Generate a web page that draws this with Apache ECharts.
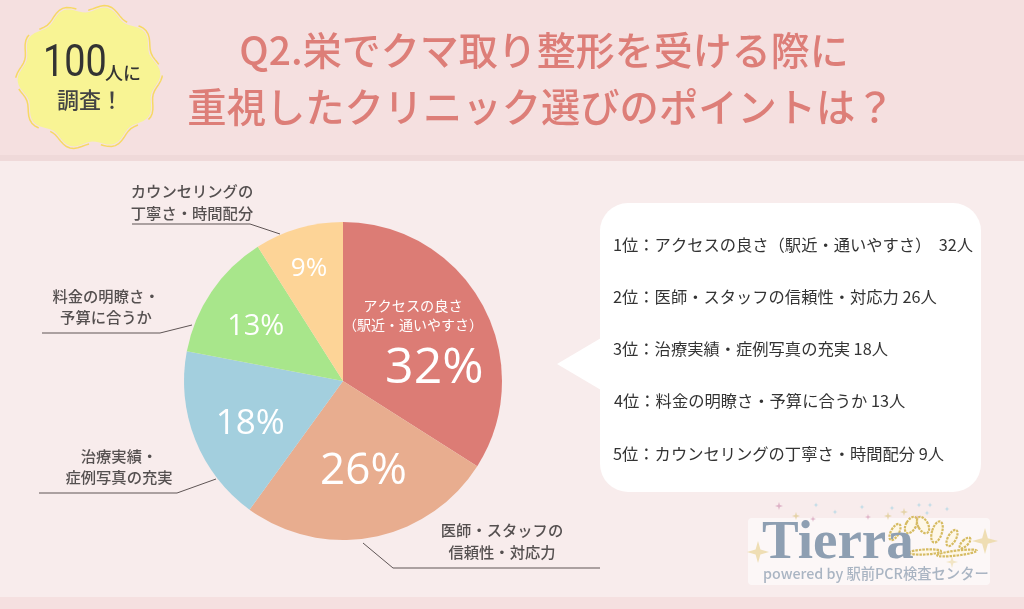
<!DOCTYPE html>
<html lang="ja">
<head>
<meta charset="utf-8">
<title>Q2</title>
<script src="https://cdn.jsdelivr.net/npm/echarts@6/dist/echarts.min.js"></script>
<style>
  html, body { margin: 0; padding: 0; background: #f8ecec; }
  #chart { width: 1024px; height: 609px; }
</style>
</head>
<body>
<div id="chart"></div>
<script>
// slice sizes as drawn in the picture (the red slice is drawn a bit wider than its label says)
const sliceShares = [34, 26, 18, 13, 9];
const percentLabels = ['32%', '26%', '18%', '13%', '9%'];
const sliceColors = ['#dc7c75', '#e8ad8f', '#a3cfde', '#a8e68b', '#fdd497'];
const rankNames = ['アクセスの良さ（駅近・通いやすさ）', '医師・スタッフの信頼性・対応力', '治療実績・症例写真の充実', '料金の明瞭さ・予算に合うか', 'カウンセリングの丁寧さ・時間配分'];
const rankCounts = [32, 26, 18, 13, 9];
const titleLines = ['Q2.栄でクマ取り整形を受ける際に', '重視したクリニック選びのポイントは？'];
const labelSizes = [50, 44, 35, 29, 26];
const labelOffsets = [[19, 27], [5, 9], [-16, 13], [-19, -8], [-11, -33]];

const JP = '"Noto Sans CJK JP", sans-serif';

function text(x, y, str, size, fill, align, weight, family) {
  return {
    type: 'text', silent: true, z: 50,
    style: {
      x: x, y: y, text: str, fill: fill,
      fontSize: size, fontFamily: family || JP, fontWeight: weight || 400,
      textAlign: align || 'center', textVerticalAlign: 'middle'
    }
  };
}

function rect(x, y, w, h, fill, r) {
  return { type: 'rect', silent: true, z: 0, shape: { x: x, y: y, width: w, height: h, r: r || 0 }, style: { fill: fill } };
}

function line(points) {
  return { type: 'polyline', silent: true, z: 40, shape: { points: points }, style: { stroke: '#5f5555', lineWidth: 1, fill: null } };
}

// wavy sticker outline around the badge
function wavy(cx, cy, radius, amp, lobes) {
  let pts = [];
  for (let i = 0; i < 360; i += 3) {
    let a = i * Math.PI / 180;
    let r = radius + amp * Math.cos(lobes * a + 0.5);
    pts.push([cx + r * Math.cos(a), cy + r * Math.sin(a)]);
  }
  return pts;
}

// four point sparkle in the logo
function star(cx, cy, s, fill) {
  let k = s * 0.22;
  return {
    type: 'polygon', silent: true, z: 30,
    shape: { points: [[cx, cy - s], [cx + k, cy - k], [cx + s, cy], [cx + k, cy + k], [cx, cy + s], [cx - k, cy + k], [cx - s, cy], [cx - k, cy - k]] },
    style: { fill: fill, opacity: 0.85 }
  };
}

function ring(cx, cy, rx, ry, rot) {
  return {
    type: 'ellipse', silent: true, z: 31, x: cx, y: cy, rotation: rot || 0,
    shape: { cx: 0, cy: 0, rx: rx, ry: ry },
    style: { fill: 'rgba(255,248,215,0.5)', stroke: '#d6bb62', lineWidth: 2.2, lineDash: [2.5, 1] }
  };
}

// the "100" is narrower than Roboto, so squeeze it sideways
let hundred = text(0, 0, '100', 45, '#333333', 'left', 400, 'Roboto, sans-serif');
hundred.x = 43;
hundred.y = 65;
hundred.scaleX = 0.84;

let graphics = [
  rect(0, 0, 1024, 156, '#f5e0e0'),
  rect(0, 155, 1024, 6, '#efd9d9'),
  rect(0, 161, 1024, 437, '#f8ecec'),
  rect(0, 597, 1024, 12, '#f5e0e0'),

  // badge
  { type: 'polygon', silent: true, z: 5, shape: { points: wavy(89, 77, 68, 3.5, 10) }, style: { fill: '#f8f494' } },
  { type: 'polygon', silent: true, z: 6, shape: { points: wavy(89, 77, 70, 3.5, 10) }, style: { fill: null, stroke: '#f7d964', lineWidth: 1.5, lineDash: [46, 12] } },
  hundred,
  text(123, 73, '人に', 18, '#333333', 'center', 500),
  text(90, 100, '調査！', 22, '#444444', 'center', 500),

  // title
  text(544, 50, titleLines[0], 39, '#dd7e78', 'center', 500),
  text(541, 107, titleLines[1], 39.3, '#dd7e78', 'center', 500),

  // captions around the pie
  text(192, 191, 'カウンセリングの', 15.3, '#555050', 'center', 500),
  text(192, 213, '丁寧さ・時間配分', 15.3, '#555050', 'center', 500),
  line([[132, 224], [250, 224], [280, 234]]),
  text(106, 296, '料金の明瞭さ・', 15.3, '#555050', 'center', 500),
  text(106, 317, '予算に合うか', 15.3, '#555050', 'center', 500),
  line([[42, 333], [160, 333], [192, 325]]),
  text(119, 456, '治療実績・', 15.3, '#555050', 'center', 500),
  text(119, 477, '症例写真の充実', 15.3, '#555050', 'center', 500),
  line([[39, 493], [177, 493], [216, 479]]),
  text(502, 530, '医師・スタッフの', 15.3, '#555050', 'center', 500),
  text(502, 552, '信頼性・対応力', 15.3, '#555050', 'center', 500),
  line([[363, 543], [393, 568], [600, 568]]),

  // text inside the red slice
  text(413, 306, 'アクセスの良さ', 14.2, '#ffffff'),
  text(413, 325, '（駅近・通いやすさ）', 14, '#ffffff'),

  // speech bubble
  rect(600, 203, 381, 289, '#ffffff', 28),
  { type: 'polygon', silent: true, z: 1, shape: { points: [[557, 364], [601, 338], [601, 390]] }, style: { fill: '#ffffff' } },

  // logo
  rect(748, 518, 242, 67, 'rgba(255,255,255,0.6)', 4),
  text(762, 544, 'Tierra', 55, '#8e9fb2', 'left', 700, '"Liberation Serif", serif'),
  text(763, 574, 'powered by 駅前PCR検査センター', 14.3, '#aab5c3', 'left', 500),
  ring(911, 525, 5, 9, -0.5), ring(923, 525, 5, 9, 0.5),
  ring(895, 532, 4, 9, -0.5), ring(937, 532, 5, 11, -0.3), ring(952, 538, 4, 9, -0.5), ring(965, 543, 3, 7, -0.8),
  ring(925, 552, 16, 2.5, 0.05), ring(957, 553, 20, 2.5, 0.12),
  star(758, 552, 11, '#ecd9a8'), star(985, 541, 13, '#ecd9a8'), star(952, 562, 6, '#f0e2bc'),
  star(796, 516, 4, '#e2cf9c'), star(888, 516, 4, '#e2cf9c'), star(904, 512, 4, '#e2cf9c'),
  star(779, 506, 4, '#d9a8c0'), star(813, 519, 3, '#d9a8c0'), star(868, 517, 3, '#d9a8c0'), star(917, 518, 3, '#d9a8c0'),
  star(816, 505, 2.5, '#a9d4e4'), star(835, 512, 2.5, '#a9d4e4'), star(862, 507, 2.5, '#a9d4e4'), star(892, 508, 2.5, '#a9d4e4'),
  star(919, 505, 2.5, '#a9d4e4'), star(930, 505, 2.5, '#a9d4e4'), star(927, 513, 2.5, '#a9d4e4'), star(947, 509, 2.5, '#a9d4e4')
];

// ranking list inside the bubble
const rowY = [245, 297, 349, 401, 454];
const rowX = [613, 613, 613, 614, 613];
rankNames.forEach(function (name, i) {
  graphics.push(text(rowX[i], rowY[i], (i + 1) + '位：' + name + (i === 0 ? ' ' : '') + ' ' + rankCounts[i] + '人', 16.3, '#333333', 'left'));
});

let chart = echarts.init(document.getElementById('chart'));
chart.setOption({
  animation: false,
  graphic: graphics,
  series: [{
    type: 'pie',
    z: 10,
    center: [343, 381],
    radius: 159,
    startAngle: 90,
    clockwise: true,
    silent: true,
    labelLine: { show: false },
    data: sliceShares.map(function (v, i) {
      return {
        value: v,
        name: percentLabels[i],
        itemStyle: { color: sliceColors[i] },
        label: {
          show: true,
          position: 'inside',
          formatter: percentLabels[i],
          offset: labelOffsets[i],
          color: '#ffffff',
          fontFamily: '"Open Sans", sans-serif',
          fontSize: labelSizes[i]
        }
      };
    })
  }]
});
</script>
</body>
</html>
